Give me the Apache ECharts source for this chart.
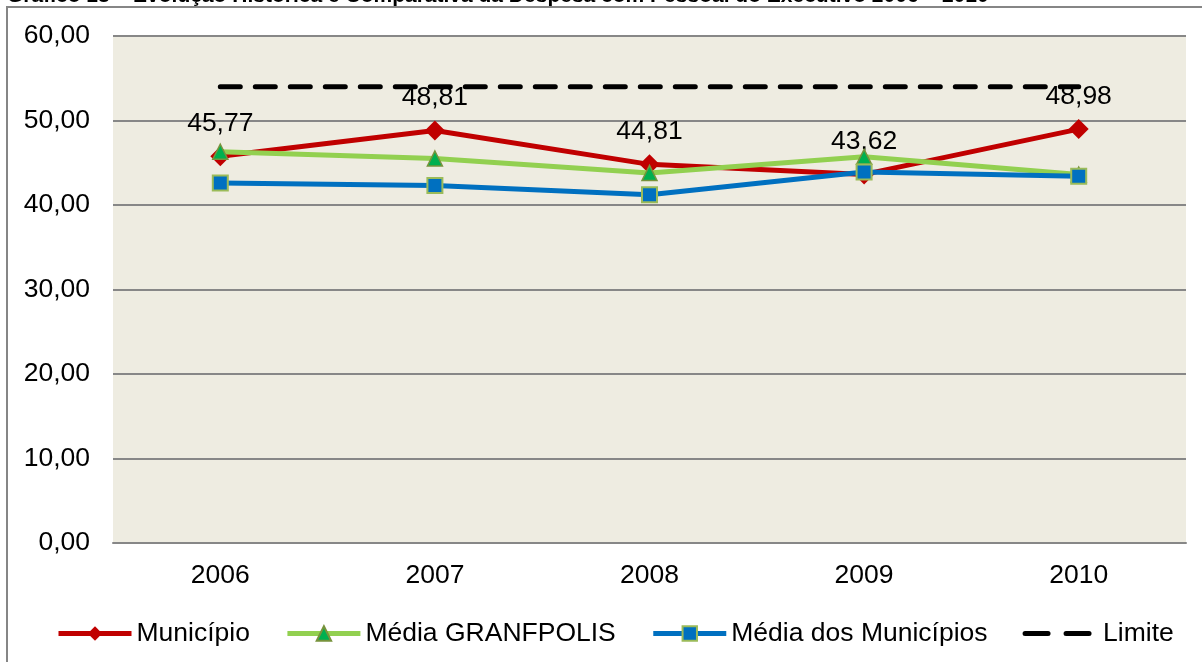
<!DOCTYPE html>
<html>
<head>
<meta charset="utf-8">
<script src="https://cdn.jsdelivr.net/npm/echarts@6/dist/echarts.min.js"></script>
<style>
  html, body { margin: 0; padding: 0; background: #fff; }
  #chart { width: 1202px; height: 662px; }
</style>
</head>
<body>
<div id="chart"></div>
<script>
const years = ["2006", "2007", "2008", "2009", "2010"]
const municipio = [45.77, 48.81, 44.81, 43.62, 48.98]
const mediaGranfpolis = [46.3, 45.5, 43.8, 45.7, 43.6]
const mediaMunicipios = [42.6, 42.3, 41.2, 43.9, 43.4]
const limite = [54, 54, 54, 54, 54]

const font = "'Liberation Sans', Arial, sans-serif"
const fmt = v => v.toFixed(2).replace(".", ",")

const chart = echarts.init(document.getElementById("chart"))
chart.setOption({
  animation: false,
  textStyle: { fontFamily: font },
  graphic: [
    {
      type: "text", left: 7, top: -14, silent: true,
      style: {
        text: "Gráfico 13 – Evolução Histórica e Comparativa da Despesa com Pessoal do Executivo 2006 – 2010",
        font: "bold 21px " + font, fill: "#000",
      },
    },
    {
      type: "rect", shape: { x: 7, y: 7, width: 1300, height: 700 },
      style: { fill: "none", stroke: "#868686", lineWidth: 2 }, silent: true,
    },
  ],
  grid: {
    left: 113, right: 16, top: 36, bottom: 119,
    show: true, backgroundColor: "#EEECE1", borderWidth: 0,
  },
  legend: {
    left: 51, top: 615,
    itemWidth: 73, itemHeight: 18, itemGap: 35,
    lineStyle: { width: 5 },
    textStyle: { fontSize: 26.5, color: "#000", fontFamily: font },
    data: [
      "Município",
      "Média GRANFPOLIS",
      "Média dos Municípios",
      {
        name: "Limite",
        itemStyle: { color: "rgba(0,0,0,0)", borderWidth: 0 },
        lineStyle: { type: [23, 18], width: 5 },
      },
    ],
  },
  xAxis: {
    type: "category",
    data: years,
    axisLine: { show: true, lineStyle: { color: "#878787", width: 2 } },
    axisTick: { show: false },
    axisLabel: { color: "#000", fontSize: 26.5, margin: 19 },
  },
  yAxis: {
    type: "value",
    min: 0, max: 60, interval: 10,
    axisLine: { show: false },
    axisTick: { show: false },
    splitLine: { show: true, lineStyle: { color: "#878787", width: 2 } },
    axisLabel: { color: "#000", fontSize: 26.5, margin: 23, formatter: fmt },
  },
  series: [
    {
      name: "Município", type: "line", data: municipio, z: 2,
      lineStyle: { color: "#C00000", width: 5 },
      itemStyle: { color: "#C00000" },
      symbol: "diamond", symbolSize: 20,
      label: {
        show: true, position: "top", distance: 9,
        fontSize: 26.5, color: "#000", formatter: p => fmt(p.value),
      },
    },
    {
      name: "Média GRANFPOLIS", type: "line", data: mediaGranfpolis, z: 3,
      lineStyle: { color: "#92D050", width: 5 },
      itemStyle: { color: "#00B050", borderColor: "#77933C", borderWidth: 1.5 },
      symbol: "triangle", symbolSize: 15,
    },
    {
      name: "Média dos Municípios", type: "line", data: mediaMunicipios, z: 4,
      lineStyle: { color: "#0070C0", width: 5 },
      itemStyle: { color: "#0070C0", borderColor: "#9BBB59", borderWidth: 2 },
      symbol: "rect", symbolSize: 15,
    },
    {
      name: "Limite", type: "line", data: limite, z: 5,
      lineStyle: { color: "#000", width: 5, type: [20, 15], cap: "round" },
      itemStyle: { color: "#000" },
      symbol: "none",
    },
  ],
})
</script>
</body>
</html>
